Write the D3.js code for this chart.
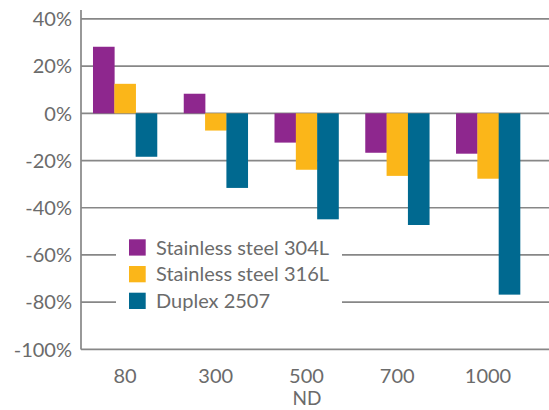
<!doctype html>
<html>
<head>
<style>
  body { margin: 0; background: white; }
  svg { display: block; }
  text { font-family: Lato, "Open Sans", sans-serif; fill: #6b6b6b; }
</style>
<script src="https://d3js.org/d3.v7.min.js"></script>
</head>
<body>
<script>

  var categories = ["80", "300", "500", "700", "1000"];
  var seriesNames = ["Stainless steel 304L", "Stainless steel 316L", "Duplex 2507"];
  var ss304 = [28.2, 8.3, -12.4, -16.7, -17.1];
  var ss316 = [12.5, -7.3, -23.9, -26.5, -27.7];
  var duplex = [-18.4, -31.6, -44.9, -47.3, -76.8];
  var yTicks = [40, 20, 0, -20, -40, -60, -80, -100];
  var colors = ["#8e278e", "#fbb619", "#006990"];

  var svg_width = 549;
  var svg_height = 410;

  var svg = d3.select("body")
              .append("svg")
              .attr("width", svg_width)
              .attr("height", svg_height);

  var yScale = d3.scaleLinear().domain([-100, 40]).range([349.4, 18.9]);

  var x0 = d3.scaleBand().domain(categories).range([79.6, 533.4])
             .paddingInner(0.295).paddingOuter(0.1475);
  var x1 = d3.scaleBand().domain(seriesNames).range([0, x0.bandwidth()]);

  // gridlines
  svg.append("g")
    .selectAll("line")
    .data(yTicks)
    .enter().append("line")
    .attr("x1", 81)
    .attr("x2", svg_width)
    .attr("y1", function(d) { return yScale(d); })
    .attr("y2", function(d) { return yScale(d); })
    .attr("stroke", "#878787")
    .attr("stroke-width", 1.7);

  // y axis line
  svg.append("line")
    .attr("x1", 81).attr("x2", 81)
    .attr("y1", 10).attr("y2", yScale(-100))
    .attr("stroke", "#878787")
    .attr("stroke-width", 1.7);

  // y labels
  svg.append("g")
    .selectAll("text")
    .data(yTicks)
    .enter().append("text")
    .attr("x", 72)
    .attr("y", function(d) { return yScale(d); })
    .attr("dy", "0.36em")
    .attr("text-anchor", "end")
    .attr("font-size", "20px")
    .text(function(d) { return d + "%"; });

  // bars
  var rows = categories.map(function(c, i) {
    return [ss304[i], ss316[i], duplex[i]];
  });

  var groups = svg.append("g")
    .selectAll("g")
    .data(rows)
    .enter().append("g")
    .attr("transform", function(d, i) { return "translate(" + x0(categories[i]) + ",0)"; });

  groups.selectAll("rect")
    .data(function(d) { return d; })
    .enter().append("rect")
    .attr("x", function(d, j) { return x1(seriesNames[j]); })
    .attr("y", function(d) { return yScale(Math.max(0, d)); })
    .attr("width", x1.bandwidth() + 0.3)
    .attr("height", function(d) { return Math.abs(yScale(d) - yScale(0)); })
    .attr("fill", function(d, j) { return colors[j]; });

  // x labels
  svg.append("g")
    .selectAll("text")
    .data(categories)
    .enter().append("text")
    .attr("x", function(d) { return x0(d) + x0.bandwidth() / 2; })
    .attr("y", 383)
    .attr("text-anchor", "middle")
    .attr("font-size", "20px")
    .text(function(d) { return d; });

  svg.append("text")
    .attr("x", 307)
    .attr("y", 405)
    .attr("text-anchor", "middle")
    .attr("font-size", "19px")
    .text("ND");

  // legend
  var legend = svg.append("g");
  legend.append("rect")
    .attr("x", 116).attr("y", 222)
    .attr("width", 226).attr("height", 108)
    .attr("fill", "white");

  var items = legend.selectAll("g")
    .data(seriesNames)
    .enter().append("g")
    .attr("transform", function(d, i) { return "translate(129," + (239.3 + i * 26.7) + ")"; });

  items.append("rect")
    .attr("width", 16.7).attr("height", 16.3)
    .attr("fill", function(d, i) { return colors[i]; });

  items.append("text")
    .attr("x", 27)
    .attr("y", 8.2)
    .attr("dy", "0.36em")
    .attr("font-size", "20px")
    .text(function(d) { return d; });

</script>
</body>
</html>
